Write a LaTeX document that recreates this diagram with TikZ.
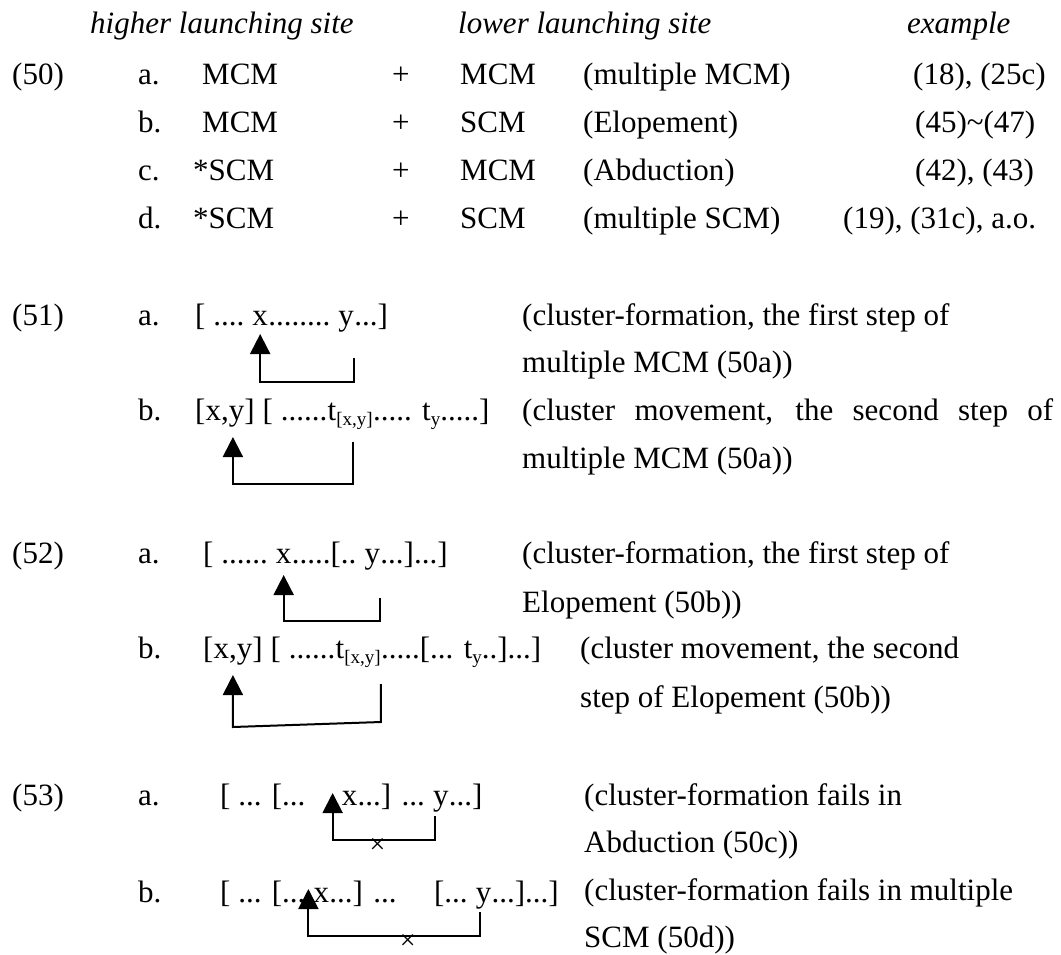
\documentclass[tikz,border=0pt]{standalone}
\usepackage{fontspec}
\setmainfont{Liberation Serif}
\usetikzlibrary{arrows.meta,positioning,calc}
\newcommand{\sbx}[1]{\raisebox{-5pt}{\fontsize{19}{19}\selectfont #1}}

\begin{document}
\begin{tikzpicture}[x=1pt,y=-1pt,
    font=\fontsize{31}{37}\selectfont,
    txt/.style={inner sep=0pt,anchor=base west},
    hd/.style={txt,font=\fontsize{31}{37}\selectfont\itshape},
    mv/.style={line width=2pt,-{Triangle[width=20pt,length=20pt]}},
    xmk/.style={inner sep=0pt,font=\fontsize{28}{28}\selectfont}]
    \useasboundingbox (0,0) rectangle (1061,954);
    % (50) table
    \node[hd] (hdhi) at (90,33) {higher launching site};
    \node[hd] (hdlo) at (458,33) {lower launching site};
    \node[hd] (hdex) at (907,33) {example};
    \node[txt] (n50) at (12,84) {(50)};
    \node[txt] (a50) at (138,84) {a.};
    \node[txt] (hi50a) at (202,84) {MCM};
    \node[txt] (pl50a) at (392,84) {+};
    \node[txt] (lo50a) at (460,84) {MCM};
    \node[txt] (nm50a) at (583,84) {(multiple MCM)};
    \node[txt] (ex50a) at (913,84) {(18), (25c)};
    \node[txt] (b50) at (138,132) {b.};
    \node[txt] (hi50b) at (202,132) {MCM};
    \node[txt] (pl50b) at (392,132) {+};
    \node[txt] (lo50b) at (460,132) {SCM};
    \node[txt] (nm50b) at (583,132) {(Elopement)};
    \node[txt] (ex50b) at (915,132) {(45)\textasciitilde(47)};
    \node[txt] (c50) at (138,180) {c.};
    \node[txt] (hi50c) at (193,180) {*SCM};
    \node[txt] (pl50c) at (392,180) {+};
    \node[txt] (lo50c) at (460,180) {MCM};
    \node[txt] (nm50c) at (583,180) {(Abduction)};
    \node[txt] (ex50c) at (915,180) {(42), (43)};
    \node[txt] (d50) at (138,228) {d.};
    \node[txt] (hi50d) at (193,228) {*SCM};
    \node[txt] (pl50d) at (392,228) {+};
    \node[txt] (lo50d) at (460,228) {SCM};
    \node[txt] (nm50d) at (583,228) {(multiple SCM)};
    \node[txt] (ex50d) at (843,228) {(19), (31c), a.o.};
    % (51)
    \node[txt] (n51) at (12,325) {(51)};
    \node[txt] (a51) at (138,325) {a.};
    \node[txt] (l51a) at (195,325) {[ ....\ \null};
    \node[txt] (x51a) at (l51a.base east) {x};
    \node[txt] (m51a) at (x51a.base east) {........\ \null};
    \node[txt] (y51a) at (m51a.base east) {y};
    \node[txt] (r51a) at (y51a.base east) {...]};
    \draw[mv] ([yshift=-33pt]y51a.base east) -- ++(0,24) -| ([yshift=-9pt]x51a.base);
    \node[txt] (b51) at (138,420) {b.};
    \node[txt] (c51b) at (195,420) {[x,y]};
    \node[txt] (m51b) at (c51b.base east) {\ [ ......};
    \node[txt] (t51b) at (m51b.base east) {t\sbx{[x,y]}};
    \node[txt] (r51b) at (t51b.base east) {..... t\sbx{y}.....]};
    \draw[mv] ([xshift=3pt,yshift=-22pt]t51b.base) -- ++(0,42) -| ([xshift=8pt,yshift=-17pt]c51b.base);
    \node[txt] (d51a1) at (522,325) {(cluster-formation, the first step of};
    \node[txt] (d51a2) at (522,372) {multiple MCM (50a))};
    \node[txt] (d51b1) at (522,420) {\makebox[531pt][s]{(cluster movement, the second step of}};
    \node[txt] (d51b2) at (522,468) {multiple MCM (50a))};
    % (52)
    \node[txt] (n52) at (12,563) {(52)};
    \node[txt] (a52) at (138,563) {a.};
    \node[txt] (l52a) at (203,563) {[ ......\ \null};
    \node[txt] (x52a) at (l52a.base east) {x};
    \node[txt] (m52a) at (x52a.base east) {.....[..\ \null};
    \node[txt] (y52a) at (m52a.base east) {y};
    \node[txt] (r52a) at (y52a.base east) {...]...]};
    \draw[mv] ([yshift=-35pt]y52a.base east) -- ++(0,23) -| ([yshift=-12pt]x52a.base);
    \node[txt] (b52) at (138,658) {b.};
    \node[txt] (c52b) at (203,658) {[x,y]};
    \node[txt] (m52b) at (c52b.base east) {\ [ ......};
    \node[txt] (t52b) at (m52b.base east) {t\sbx{[x,y]}};
    \node[txt] (r52b) at (t52b.base east) {.....[... t\sbx{y}..]...]};
    \draw[mv] ([yshift=-26pt]t52b.base east) -- ++(0,38) -- ([yshift=-69pt]c52b.base) -- ([yshift=-17pt]c52b.base);
    \node[txt] (d52a1) at (522,563) {(cluster-formation, the first step of};
    \node[txt] (d52a2) at (522,612) {Elopement (50b))};
    \node[txt] (d52b1) at (580,658) {(cluster movement, the second};
    \node[txt] (d52b2) at (580,707) {step of Elopement (50b))};
    % (53)
    \node[txt] (n53) at (12,805) {(53)};
    \node[txt] (a53) at (138,805) {a.};
    \node[txt] (l53a) at (220,805) {[ ... [...};
    \node[txt] (x53a) at ([xshift=36pt]l53a.base east) {x};
    \node[txt] (m53a) at (x53a.base east) {...] ...\ \null};
    \node[txt] (y53a) at (m53a.base east) {y};
    \node[txt] (r53a) at (y53a.base east) {...]};
    \draw[mv] ([xshift=2pt,yshift=-11pt]y53a.base west) -- ++(0,24) -| node[xmk,pos=.28,yshift=-6pt] (xk53a) {×} ([xshift=-9pt,yshift=12pt]x53a.base west);
    \node[txt] (b53) at (138,902) {b.};
    \node[txt] (l53b) at (220,902) {[ ... [...\ \null};
    \node[txt] (x53b) at (l53b.base east) {x};
    \node[txt] (m53b) at (x53b.base east) {...] ...};
    \node[txt] (p53b) at ([xshift=37pt]m53b.base east) {[...\ \null};
    \node[txt] (y53b) at (p53b.base east) {y};
    \node[txt] (r53b) at (y53b.base east) {...]...]};
    \draw[mv] ([xshift=4pt,yshift=-10pt]y53b.base west) -- ++(0,24) -| node[xmk,pos=.21,yshift=-6pt] (xk53b) {×} ([xshift=-5pt,yshift=13pt]x53b.base west);
    \node[txt] (d53a1) at (584,805) {(cluster-formation fails in};
    \node[txt] (d53a2) at (584,852) {Abduction (50c))};
    \node[txt] (d53b1) at (584,900) {(cluster-formation fails in multiple};
    \node[txt] (d53b2) at (584,947) {SCM (50d))};
\end{tikzpicture}
\end{document}
